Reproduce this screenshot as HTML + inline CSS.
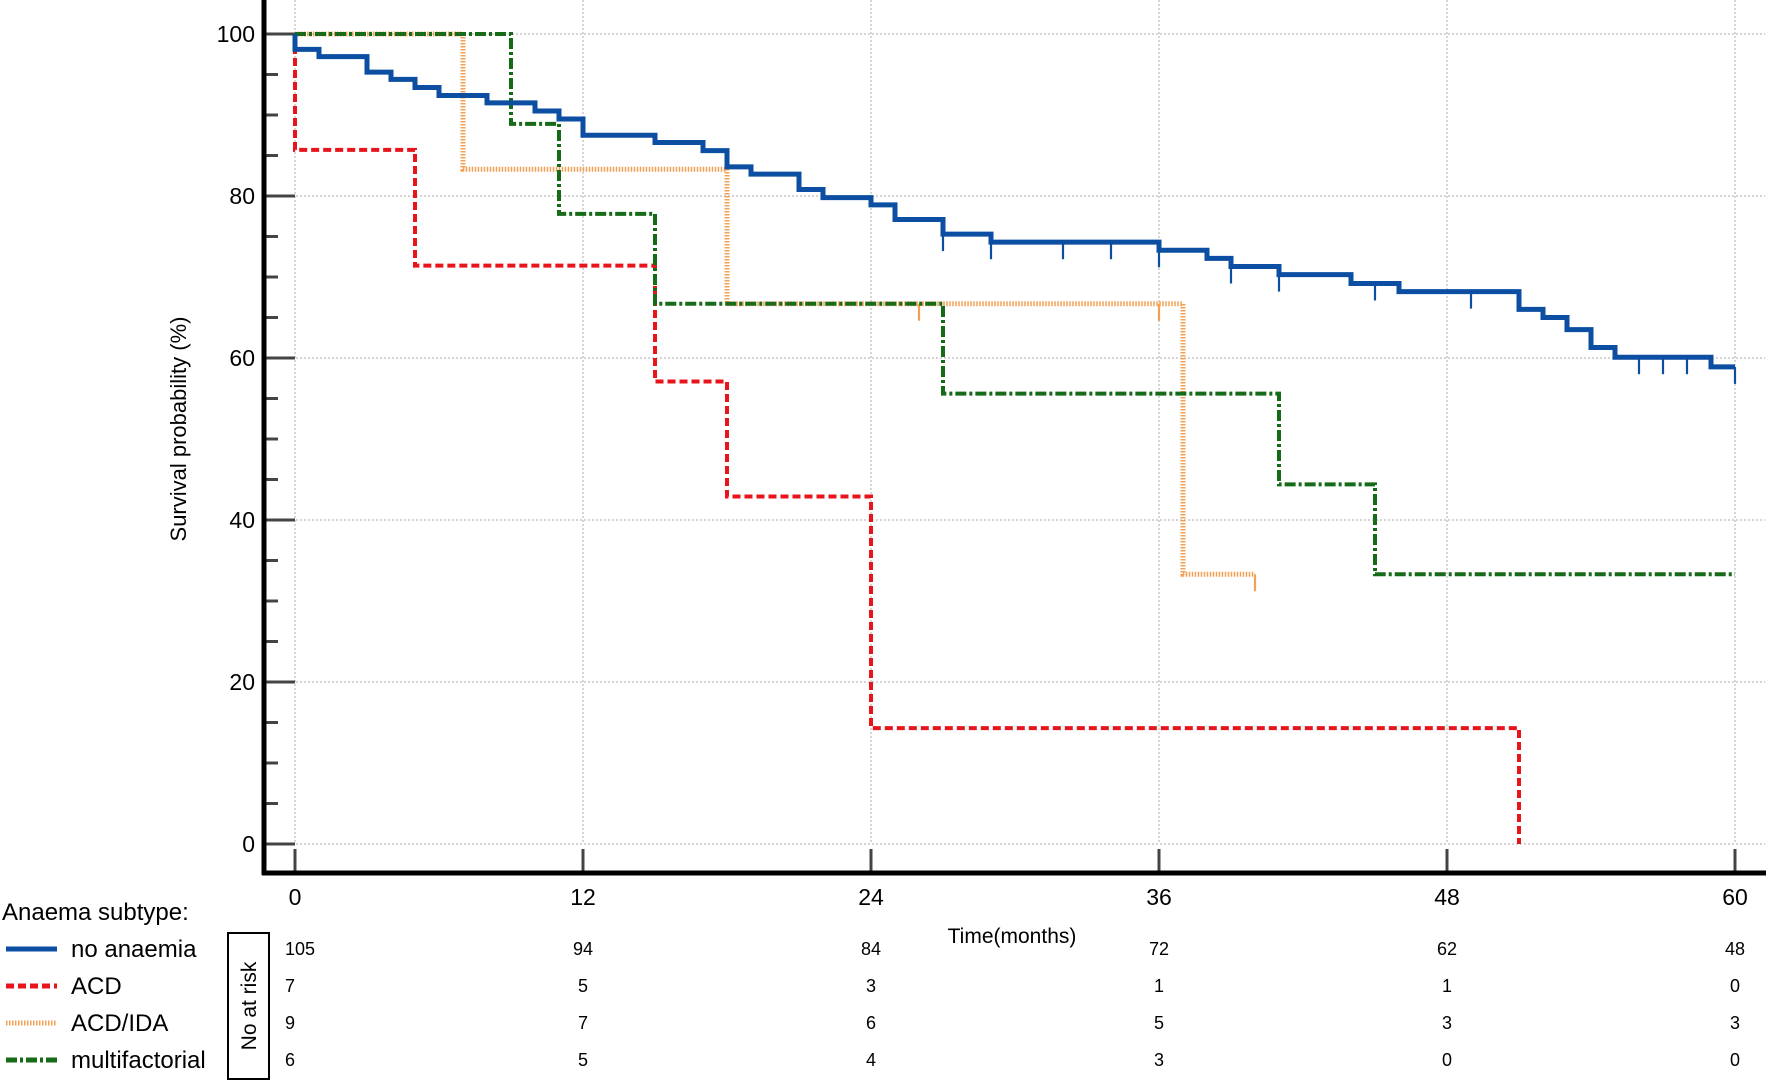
<!DOCTYPE html>
<html><head><meta charset="utf-8">
<style>
html,body{margin:0;padding:0;background:#fff;}
svg{display:block;font-family:"Liberation Sans",Arial,sans-serif;}
</style></head>
<body>
<svg id="chart" width="1772" height="1084" viewBox="0 0 1772 1084"></svg>
<script>
const xTicks=[0,12,24,36,48,60];
const yTicks=[0,20,40,60,80,100];
const seriesNames=["no anaemia","ACD","ACD/IDA","multifactorial"];
const blueSteps=[[0,100],[0,98.1],[1,97.2],[3,95.3],[4,94.4],[5,93.4],[6,92.4],[8,91.5],[10,90.5],[11,89.5],[12,87.5],[15,86.6],[17,85.6],[18,83.6],[19,82.7],[21,80.8],[22,79.8],[24,78.9],[25,77.1],[27,75.3],[29,74.3],[36,73.3],[38,72.3],[39,71.3],[41,70.3],[44,69.2],[46,68.2],[51,66.0],[52,65.0],[53,63.5],[54,61.3],[55,60.1],[59,58.9]];
const blueEnd=60;
const blueCensor=[27,29,32,34,36,39,41,45,49,56,57,58,60];
const redSteps=[[0,100],[0,85.7],[5,71.4],[15,57.1],[18,42.9],[24,14.3],[51,0]];
const redEnd=51;
const redCensor=[];
const orangeSteps=[[0,100],[7,83.3],[18,66.7],[37,33.3]];
const orangeEnd=40;
const orangeCensor=[26,36,40];
const greenSteps=[[0,100],[9,88.9],[11,77.8],[15,66.7],[27,55.6],[41,44.4],[45,33.3]];
const greenEnd=60;
const greenCensor=[];
const atRiskBlue=[105,94,84,72,62,48];
const atRiskRed=[7,5,3,1,1,0];
const atRiskOrange=[9,7,6,5,3,3];
const atRiskGreen=[6,5,4,3,0,0];

const svg=document.getElementById('chart');
const NS="http://www.w3.org/2000/svg";
const X0=295,X1=1735,Y100=34,Y0=844;
const xs=t=>X0+(X1-X0)*t/60;
const ys=v=>Y0-(Y0-Y100)*v/100;
function el(tag,attrs,parent){const e=document.createElementNS(NS,tag);for(const k in attrs)e.setAttribute(k,attrs[k]);(parent||svg).appendChild(e);return e;}

xTicks.forEach(t=>{const g=el('line',{x1:xs(t),x2:xs(t),y1:0,y2:Y0,stroke:'#bbb','stroke-width':1.2,'stroke-dasharray':'2,2'});

});
yTicks.forEach(v=>{const g=el('line',{x1:264,x2:1765,y1:ys(v),y2:ys(v),stroke:'#bbb','stroke-width':1.2,'stroke-dasharray':'2,2'});

});
for(let v=0;v<=100;v+=5){const major=v%20===0;const tk=el('line',{x1:264,x2:major?X0:278,y1:ys(v),y2:ys(v),stroke:'#444','stroke-width':3});

}
yTicks.forEach(v=>{const t=el('text',{x:255,y:ys(v)+8,'text-anchor':'end','font-size':23});t.textContent=v;

});
xTicks.forEach(t=>{const tk=el('line',{x1:xs(t),x2:xs(t),y1:849,y2:873,stroke:'#444','stroke-width':3});


const l=el('text',{x:xs(t),y:905,'text-anchor':'middle','font-size':23});l.textContent=t;

});
const ax=el('line',{x1:264,x2:264,y1:0,y2:875,stroke:'#000','stroke-width':5});


const ax2=el('line',{x1:262,x2:1766,y1:873,y2:873,stroke:'#000','stroke-width':5});


const yt=el('text',{x:0,y:0,'text-anchor':'middle','font-size':22,transform:'translate(186,429) rotate(-90)'});yt.textContent='Survival probability (%)';


const xt=el('text',{x:1012,y:943,'text-anchor':'middle','font-size':21});xt.textContent='Time(months)';



function curve(steps,end,censor,style,name){
  let d='M'+xs(steps[0][0])+','+ys(steps[0][1]);
  for(let i=1;i<steps.length;i++){d+=' H'+xs(steps[i][0])+' V'+ys(steps[i][1]);}
  d+=' H'+xs(end);
  const p=el('path',Object.assign({d:d,fill:'none'},style));
  
  
  censor.forEach(t=>{let v=steps[0][1];steps.forEach(s=>{if(s[0]<=t)v=s[1];});
    const c=el('line',{x1:xs(t),x2:xs(t),y1:ys(v),y2:ys(v)+17,stroke:style.stroke,'stroke-width':2.2});
    
    });
}
const stBlue={stroke:'#0b4ea2','stroke-width':5};
const stRed={stroke:'#e8141b','stroke-width':4,'stroke-dasharray':'8,4'};
const stOrange={stroke:'#f2a055','stroke-width':5,'stroke-dasharray':'1.5,1.5'};
const stGreen={stroke:'#156b17','stroke-width':4,'stroke-dasharray':'11,3,3,3'};
curve(orangeSteps,orangeEnd,orangeCensor,stOrange,'acd-ida');
curve(redSteps,redEnd,redCensor,stRed,'acd');
curve(greenSteps,greenEnd,greenCensor,stGreen,'multifactorial');
curve(blueSteps,blueEnd,blueCensor,stBlue,'no-anaemia');

const lt=el('text',{x:2,y:920,'font-size':24});lt.textContent='Anaema subtype:';


const rowsY=[957,994,1031,1068];
const styles=[stBlue,stRed,stOrange,stGreen];
const risks=[atRiskBlue,atRiskRed,atRiskOrange,atRiskGreen];
seriesNames.forEach((n,i)=>{
  const ln=el('line',Object.assign({x1:6,x2:57,y1:rowsY[i]-8,y2:rowsY[i]-8},styles[i],{'stroke-width':5}));
  
  
  const t=el('text',{x:71,y:rowsY[i],'font-size':24});t.textContent=n;
  
  
  risks[i].forEach((r,j)=>{const rt=el('text',{x:j===0?xs(0)-10:xs(xTicks[j]),y:rowsY[i]-2,'text-anchor':j===0?'start':'middle','font-size':18});rt.textContent=r;
    
    });
});
const box=el('rect',{x:228,y:933,width:41,height:146,fill:'none',stroke:'#000','stroke-width':2});


const bt=el('text',{x:0,y:0,'text-anchor':'middle','font-size':21,transform:'translate(256,1006) rotate(-90)'});bt.textContent='No at risk';


</script>
</body></html>
